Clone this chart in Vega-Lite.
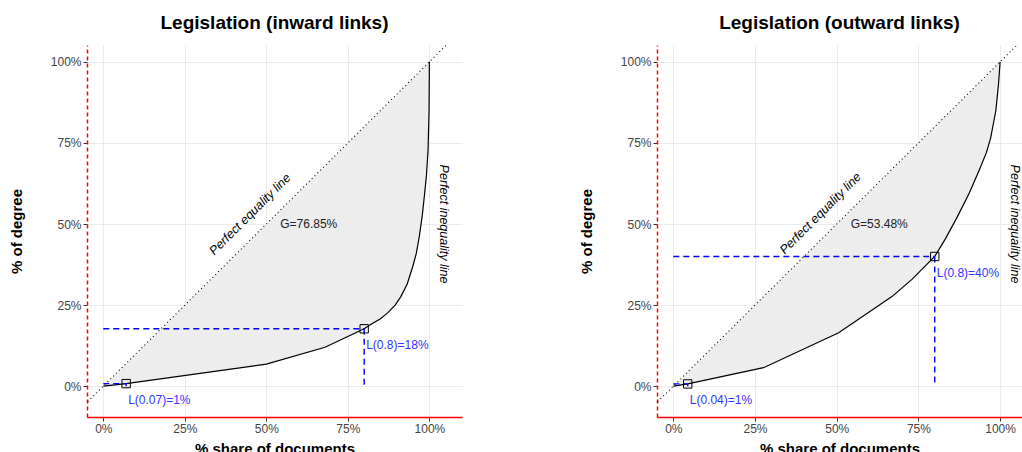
{
  "$schema": "https://vega.github.io/schema/vega-lite/v6.json",
  "padding": {"left": 9, "top": 14, "right": 0, "bottom": 0},
  "spacing": 117,
  "datasets": {
    "inCurve": [
      {"x": 0, "y": 0}, {"x": 0.07, "y": 0.008}, {"x": 0.5, "y": 0.068}, {"x": 0.68, "y": 0.12},
      {"x": 0.8, "y": 0.177}, {"x": 0.82, "y": 0.19}, {"x": 0.85, "y": 0.208}, {"x": 0.872, "y": 0.226},
      {"x": 0.895, "y": 0.25}, {"x": 0.913, "y": 0.277}, {"x": 0.932, "y": 0.315}, {"x": 0.949, "y": 0.369},
      {"x": 0.96, "y": 0.41}, {"x": 0.969, "y": 0.461}, {"x": 0.978, "y": 0.525}, {"x": 0.985, "y": 0.59},
      {"x": 0.991, "y": 0.65}, {"x": 0.996, "y": 0.73}, {"x": 0.999, "y": 0.85}, {"x": 1, "y": 1}
    ],
    "outCurve": [
      {"x": 0, "y": 0}, {"x": 0.044, "y": 0.007}, {"x": 0.276, "y": 0.057}, {"x": 0.506, "y": 0.165},
      {"x": 0.67, "y": 0.277}, {"x": 0.731, "y": 0.33}, {"x": 0.8, "y": 0.4}, {"x": 0.833, "y": 0.455},
      {"x": 0.869, "y": 0.522}, {"x": 0.905, "y": 0.594}, {"x": 0.936, "y": 0.666}, {"x": 0.958, "y": 0.72},
      {"x": 0.971, "y": 0.765}, {"x": 0.987, "y": 0.85}, {"x": 0.995, "y": 0.93}, {"x": 1, "y": 1}
    ],
    "inSeg": [
      {"x": 0, "y": 0.177, "x2": 0.8, "y2": 0.177}, {"x": 0.8, "y": 0.177, "x2": 0.8, "y2": 0},
      {"x": 0, "y": 0.008, "x2": 0.07, "y2": 0.008}, {"x": 0.07, "y": 0.008, "x2": 0.07, "y2": 0}
    ],
    "outSeg": [
      {"x": 0, "y": 0.4, "x2": 0.8, "y2": 0.4}, {"x": 0.8, "y": 0.4, "x2": 0.8, "y2": 0},
      {"x": 0, "y": 0.007, "x2": 0.044, "y2": 0.007}, {"x": 0.044, "y": 0.007, "x2": 0.044, "y2": 0}
    ],
    "inPts": [
      {"x": 0.8, "y": 0.177, "ly": 0.127, "label": "L(0.8)=18%"},
      {"x": 0.07, "y": 0.008, "ly": -0.042, "label": "L(0.07)=1%"}
    ],
    "outPts": [
      {"x": 0.8, "y": 0.4, "ly": 0.35, "label": "L(0.8)=40%"},
      {"x": 0.044, "y": 0.007, "ly": -0.043, "label": "L(0.04)=1%"}
    ],
    "inNotes": [
      {"x": 0.45, "y": 0.53, "label": "Perfect equality line", "kind": "eq"},
      {"x": 1.046, "y": 0.5, "label": "Perfect inequality line", "kind": "ineq"},
      {"x": 0.63, "y": 0.5, "label": "G=76.85%", "kind": "g"}
    ],
    "outNotes": [
      {"x": 0.45, "y": 0.533, "label": "Perfect equality line", "kind": "eq"},
      {"x": 1.046, "y": 0.5, "label": "Perfect inequality line", "kind": "ineq"},
      {"x": 0.63, "y": 0.5, "label": "G=53.48%", "kind": "g"}
    ],
    "diag": [{"a": -0.3, "b": 1.3}]
  },
  "hconcat": [
    {
      "width": 375,
      "height": 372,
      "title": {"text": "Legislation (inward links)"},
      "layer": [
        {
          "data": {"name": "inCurve"},
          "mark": {"type": "area", "color": "#EDEDED"},
          "encoding": {
            "x": {"field": "x", "type": "quantitative",
              "scale": {"domain": [-0.05, 1.1], "nice": false, "zero": false},
              "axis": {"values": [0, 0.25, 0.5, 0.75, 1], "format": ".0%", "title": "% share of documents",
                "domain": true, "domainColor": "#FF0000", "domainWidth": 1.3}},
            "y": {"field": "y", "type": "quantitative",
              "scale": {"domain": [-0.095, 1.052], "nice": false, "zero": false},
              "axis": {"values": [0, 0.25, 0.5, 0.75, 1], "format": ".0%", "title": "% of degree",
                "domain": true, "domainColor": "#FF0000", "domainWidth": 1.5, "domainDash": [4, 3], "titleX": -63}},
            "y2": {"field": "x"}
          }
        },
        {
          "data": {"name": "diag"},
          "mark": {"type": "rule", "color": "#000", "strokeDash": [1, 3], "strokeWidth": 1.1, "clip": true},
          "encoding": {"x": {"field": "a", "type": "quantitative"}, "y": {"field": "a", "type": "quantitative"}, "x2": {"field": "b"}, "y2": {"field": "b"}}
        },
        {
          "mark": {"type": "rule", "color": "#000", "strokeDash": [1, 3], "strokeWidth": 1.1},
          "encoding": {"x": {"datum": 1, "type": "quantitative"}}
        },
        {
          "data": {"name": "inCurve"},
          "mark": {"type": "line", "color": "#000", "strokeWidth": 1.2},
          "encoding": {"x": {"field": "x", "type": "quantitative"}, "y": {"field": "y", "type": "quantitative"}}
        },
        {
          "data": {"name": "inSeg"},
          "mark": {"type": "rule", "color": "#0000FF", "strokeDash": [6, 4], "strokeWidth": 1.4},
          "encoding": {"x": {"field": "x", "type": "quantitative"}, "y": {"field": "y", "type": "quantitative"}, "x2": {"field": "x2"}, "y2": {"field": "y2"}}
        },
        {
          "data": {"name": "inPts"},
          "mark": {"type": "point", "shape": "square", "filled": false, "color": "#000", "size": 70, "strokeWidth": 1, "opacity": 1},
          "encoding": {"x": {"field": "x", "type": "quantitative"}, "y": {"field": "y", "type": "quantitative"}}
        },
        {
          "data": {"name": "inPts"},
          "mark": {"type": "text", "color": "#3333FF", "fontSize": 12, "align": "left", "baseline": "middle", "dx": 2},
          "encoding": {"x": {"field": "x", "type": "quantitative"}, "y": {"field": "ly", "type": "quantitative"}, "text": {"field": "label"}}
        },
        {
          "data": {"name": "inNotes"},
          "transform": [{"filter": "datum.kind == 'eq'"}],
          "mark": {"type": "text", "color": "#000", "fontSize": 12.5, "fontStyle": "italic", "angle": -45, "align": "center", "baseline": "middle"},
          "encoding": {"x": {"field": "x", "type": "quantitative"}, "y": {"field": "y", "type": "quantitative"}, "text": {"field": "label"}}
        },
        {
          "data": {"name": "inNotes"},
          "transform": [{"filter": "datum.kind == 'ineq'"}],
          "mark": {"type": "text", "color": "#000", "fontSize": 12.5, "fontStyle": "italic", "angle": 90, "align": "center", "baseline": "middle", "clip": true},
          "encoding": {"x": {"field": "x", "type": "quantitative"}, "y": {"field": "y", "type": "quantitative"}, "text": {"field": "label"}}
        },
        {
          "data": {"name": "inNotes"},
          "transform": [{"filter": "datum.kind == 'g'"}],
          "mark": {"type": "text", "color": "#222", "fontSize": 12, "align": "center", "baseline": "middle"},
          "encoding": {"x": {"field": "x", "type": "quantitative"}, "y": {"field": "y", "type": "quantitative"}, "text": {"field": "label"}}
        }
      ]
    },
    {
      "width": 365,
      "height": 372,
      "title": {"text": "Legislation (outward links)"},
      "layer": [
        {
          "data": {"name": "outCurve"},
          "mark": {"type": "area", "color": "#EDEDED"},
          "encoding": {
            "x": {"field": "x", "type": "quantitative",
              "scale": {"domain": [-0.05, 1.067], "nice": false, "zero": false},
              "axis": {"values": [0, 0.25, 0.5, 0.75, 1], "format": ".0%", "title": "% share of documents",
                "domain": true, "domainColor": "#FF0000", "domainWidth": 1.3}},
            "y": {"field": "y", "type": "quantitative",
              "scale": {"domain": [-0.095, 1.052], "nice": false, "zero": false},
              "axis": {"values": [0, 0.25, 0.5, 0.75, 1], "format": ".0%", "title": "% of degree",
                "domain": true, "domainColor": "#FF0000", "domainWidth": 1.5, "domainDash": [4, 3], "titleX": -63}},
            "y2": {"field": "x"}
          }
        },
        {
          "data": {"name": "diag"},
          "mark": {"type": "rule", "color": "#000", "strokeDash": [1, 3], "strokeWidth": 1.1, "clip": true},
          "encoding": {"x": {"field": "a", "type": "quantitative"}, "y": {"field": "a", "type": "quantitative"}, "x2": {"field": "b"}, "y2": {"field": "b"}}
        },
        {
          "mark": {"type": "rule", "color": "#000", "strokeDash": [1, 3], "strokeWidth": 1.1},
          "encoding": {"x": {"datum": 1, "type": "quantitative"}}
        },
        {
          "data": {"name": "outCurve"},
          "mark": {"type": "line", "color": "#000", "strokeWidth": 1.2},
          "encoding": {"x": {"field": "x", "type": "quantitative"}, "y": {"field": "y", "type": "quantitative"}}
        },
        {
          "data": {"name": "outSeg"},
          "mark": {"type": "rule", "color": "#0000FF", "strokeDash": [6, 4], "strokeWidth": 1.4},
          "encoding": {"x": {"field": "x", "type": "quantitative"}, "y": {"field": "y", "type": "quantitative"}, "x2": {"field": "x2"}, "y2": {"field": "y2"}}
        },
        {
          "data": {"name": "outPts"},
          "mark": {"type": "point", "shape": "square", "filled": false, "color": "#000", "size": 70, "strokeWidth": 1, "opacity": 1},
          "encoding": {"x": {"field": "x", "type": "quantitative"}, "y": {"field": "y", "type": "quantitative"}}
        },
        {
          "data": {"name": "outPts"},
          "mark": {"type": "text", "color": "#3333FF", "fontSize": 12, "align": "left", "baseline": "middle", "dx": 2},
          "encoding": {"x": {"field": "x", "type": "quantitative"}, "y": {"field": "ly", "type": "quantitative"}, "text": {"field": "label"}}
        },
        {
          "data": {"name": "outNotes"},
          "transform": [{"filter": "datum.kind == 'eq'"}],
          "mark": {"type": "text", "color": "#000", "fontSize": 12.5, "fontStyle": "italic", "angle": -45, "align": "center", "baseline": "middle"},
          "encoding": {"x": {"field": "x", "type": "quantitative"}, "y": {"field": "y", "type": "quantitative"}, "text": {"field": "label"}}
        },
        {
          "data": {"name": "outNotes"},
          "transform": [{"filter": "datum.kind == 'ineq'"}],
          "mark": {"type": "text", "color": "#000", "fontSize": 12.5, "fontStyle": "italic", "angle": 90, "align": "center", "baseline": "middle", "clip": true},
          "encoding": {"x": {"field": "x", "type": "quantitative"}, "y": {"field": "y", "type": "quantitative"}, "text": {"field": "label"}}
        },
        {
          "data": {"name": "outNotes"},
          "transform": [{"filter": "datum.kind == 'g'"}],
          "mark": {"type": "text", "color": "#222", "fontSize": 12, "align": "center", "baseline": "middle"},
          "encoding": {"x": {"field": "x", "type": "quantitative"}, "y": {"field": "y", "type": "quantitative"}, "text": {"field": "label"}}
        }
      ]
    }
  ],
  "config": {
    "font": "Liberation Sans",
    "view": {"stroke": null},
    "axis": {
      "grid": true, "gridColor": "#EBEBEB", "gridWidth": 1,
      "tickColor": "#333333", "tickSize": 4, "tickWidth": 1,
      "labelFontSize": 12, "labelColor": "#444444", "labelPadding": 2,
      "titleFontSize": 15, "titleFontWeight": "bold", "titleColor": "#000000"
    },
    "axisX": {"titlePadding": 7, "labelFlush": false},
    "title": {"fontSize": 19, "fontWeight": "bold", "color": "#000000", "anchor": "middle", "offset": 12}
  }
}
